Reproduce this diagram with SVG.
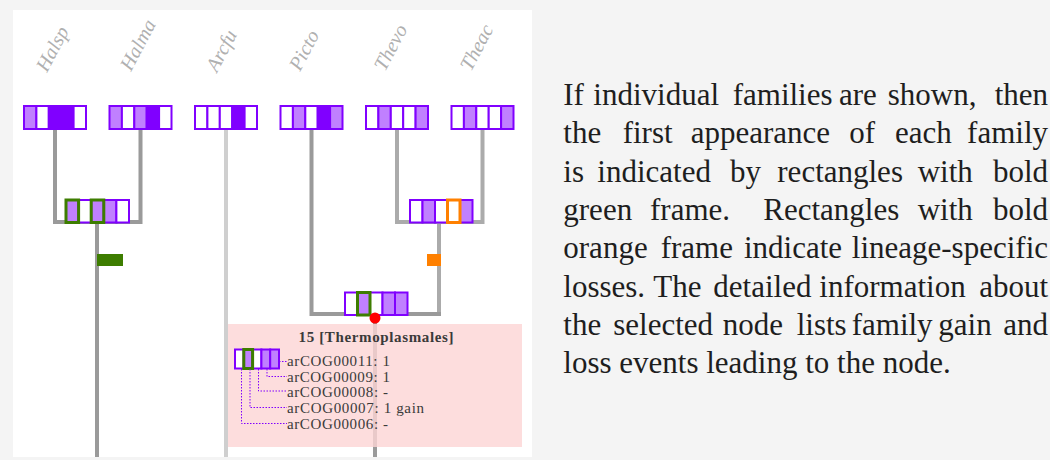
<svg xmlns="http://www.w3.org/2000/svg" width="1050" height="460" viewBox="0 0 1050 460">
<style>
.lbl{font-family:"Liberation Serif","DejaVu Serif","Times New Roman",serif;font-style:italic;font-size:20px;fill:#b0b0b0}
.c{stroke:#8000ff;stroke-width:2}
.W{fill:#ffffff}.L{fill:#c080ff}.D{fill:#8000ff}
.g{fill:none;stroke:#3d7d00;stroke-width:3}
.o{fill:none;stroke:#ff8000;stroke-width:3}
.br{fill:none;stroke-width:4;stroke-linejoin:miter}
.dk{stroke:#9a9a9a}.md{stroke:#ababab}.lt{stroke:#cfcfcf}
.body{font-family:"Liberation Serif","DejaVu Serif","Times New Roman",serif;font-size:31px;fill:#1e1e1e}
.info{font-family:"Liberation Serif","DejaVu Serif","Times New Roman",serif;font-size:15px;fill:#3a3a3a}
.dot{fill:none;stroke:#8000ff;stroke-width:1;stroke-dasharray:1.5 1.5}
</style>
<rect x="0" y="0" width="1050" height="460" fill="#f4f4f4"/>
<rect x="13" y="10" width="519" height="447" fill="#ffffff"/>

<g id="connectors">
  <path class="br dk" d="M55,129 V222 H140.5 V129"/>
  <path class="br dk" d="M97,222 V457"/>
  <path class="br lt" d="M226,129 V457"/>
  <path class="br md" d="M397,129 V222 H482.5 V129"/>
  <path class="br md" d="M439,222 V314"/>
  <path class="br dk" d="M311.5,129 V314 H441"/>
  <path class="br dk" d="M375,314 V457"/>
  <rect x="97" y="254" width="26" height="12" fill="#3d7d00"/>
  <rect x="427" y="254" width="14" height="12" fill="#ff8000"/>
</g>

<g id="leaf-Halsp">
  <text class="lbl" transform="translate(47,73) rotate(-62)">Halsp</text>
  <rect class="c L" x="24" y="106" width="12.4" height="23"/>
  <rect class="c W" x="36.4" y="106" width="12.4" height="23"/>
  <rect class="c D" x="48.8" y="106" width="12.4" height="23"/>
  <rect class="c D" x="61.2" y="106" width="12.4" height="23"/>
  <rect class="c W" x="73.6" y="106" width="12.4" height="23"/>
</g>
<g id="leaf-Halma">
  <text class="lbl" transform="translate(131,72) rotate(-62)">Halma</text>
  <rect class="c L" x="109.5" y="106" width="12.4" height="23"/>
  <rect class="c W" x="121.9" y="106" width="12.4" height="23"/>
  <rect class="c L" x="134.3" y="106" width="12.4" height="23"/>
  <rect class="c D" x="146.7" y="106" width="12.4" height="23"/>
  <rect class="c W" x="159.1" y="106" width="12.4" height="23"/>
</g>
<g id="leaf-Arcfu">
  <text class="lbl" transform="translate(217,73) rotate(-62)">Arcfu</text>
  <rect class="c W" x="195" y="106" width="12.4" height="23"/>
  <rect class="c W" x="207.4" y="106" width="12.4" height="23"/>
  <rect class="c W" x="219.8" y="106" width="12.4" height="23"/>
  <rect class="c D" x="232.2" y="106" width="12.4" height="23"/>
  <rect class="c W" x="244.6" y="106" width="12.4" height="23"/>
</g>
<g id="leaf-Picto">
  <text class="lbl" transform="translate(300,72) rotate(-62)">Picto</text>
  <rect class="c W" x="280.5" y="106" width="12.4" height="23"/>
  <rect class="c L" x="292.9" y="106" width="12.4" height="23"/>
  <rect class="c W" x="305.3" y="106" width="12.4" height="23"/>
  <rect class="c D" x="317.7" y="106" width="12.4" height="23"/>
  <rect class="c L" x="330.1" y="106" width="12.4" height="23"/>
</g>
<g id="leaf-Thevo">
  <text class="lbl" transform="translate(385,72) rotate(-62)">Thevo</text>
  <rect class="c W" x="366" y="106" width="12.4" height="23"/>
  <rect class="c L" x="378.4" y="106" width="12.4" height="23"/>
  <rect class="c W" x="390.8" y="106" width="12.4" height="23"/>
  <rect class="c W" x="403.2" y="106" width="12.4" height="23"/>
  <rect class="c L" x="415.6" y="106" width="12.4" height="23"/>
</g>
<g id="leaf-Theac">
  <text class="lbl" transform="translate(471,72) rotate(-62)">Theac</text>
  <rect class="c W" x="451.5" y="106" width="12.4" height="23"/>
  <rect class="c L" x="463.9" y="106" width="12.4" height="23"/>
  <rect class="c W" x="476.3" y="106" width="12.4" height="23"/>
  <rect class="c W" x="488.7" y="106" width="12.4" height="23"/>
  <rect class="c L" x="501.1" y="106" width="12.4" height="23"/>
</g>

<g id="node-halo">
  <rect class="c L" x="66" y="200" width="12.6" height="22.5"/>
  <rect class="c W" x="78.6" y="200" width="12.6" height="22.5"/>
  <rect class="c L" x="91.2" y="200" width="12.6" height="22.5"/>
  <rect class="c L" x="103.8" y="200" width="12.6" height="22.5"/>
  <rect class="c W" x="116.4" y="200" width="12.6" height="22.5"/>
  <rect class="g" x="66" y="200" width="12.6" height="22.5"/>
  <rect class="g" x="91.2" y="200" width="12.6" height="22.5"/>
</g>
<g id="node-thermo">
  <rect class="c W" x="410" y="200" width="12.5" height="22.5"/>
  <rect class="c L" x="422.5" y="200" width="12.5" height="22.5"/>
  <rect class="c W" x="435" y="200" width="12.5" height="22.5"/>
  <rect class="c W" x="447.5" y="200" width="12.5" height="22.5"/>
  <rect class="c L" x="460" y="200" width="12.5" height="22.5"/>
  <rect class="o" x="447.5" y="200" width="12.5" height="22.5"/>
</g>

<g id="info-panel">
  <rect x="228" y="324" width="294" height="123" fill="#fcd4d4" fill-opacity="0.8"/>
  <text class="info" x="376" y="342" text-anchor="middle" font-weight="bold" font-size="16px" textLength="155">15 [Thermoplasmales]</text>
  <rect class="c W" x="235" y="349.5" width="8.8" height="19"/>
  <rect class="c L" x="243.8" y="349.5" width="8.8" height="19"/>
  <rect class="c W" x="252.6" y="349.5" width="8.8" height="19"/>
  <rect class="c L" x="261.4" y="349.5" width="8.8" height="19"/>
  <rect class="c L" x="270.2" y="349.5" width="8.8" height="19"/>
  <rect class="g" x="243.8" y="349.5" width="8.8" height="19"/>
  <path class="dot" d="M279,361.5 H287"/>
  <path class="dot" d="M267,369 V376.5 H287"/>
  <path class="dot" d="M258.5,369 V391 H287"/>
  <path class="dot" d="M250,369 V407.5 H287"/>
  <path class="dot" d="M241.5,369 V423.5 H287"/>
  <text class="info" x="287" y="366" textLength="103">arCOG00011: 1</text>
  <text class="info" x="287" y="381.5" textLength="103">arCOG00009: 1</text>
  <text class="info" x="287" y="396.5" textLength="101">arCOG00008: -</text>
  <text class="info" x="287" y="412.5" textLength="137">arCOG00007: 1 gain</text>
  <text class="info" x="287" y="429" textLength="101">arCOG00006: -</text>
</g>

<g id="node-selected">
  <rect class="c W" x="345" y="292.5" width="12.5" height="22.5"/>
  <rect class="c L" x="357.5" y="292.5" width="12.5" height="22.5"/>
  <rect class="c W" x="370" y="292.5" width="12.5" height="22.5"/>
  <rect class="c L" x="382.5" y="292.5" width="12.5" height="22.5"/>
  <rect class="c L" x="395" y="292.5" width="12.5" height="22.5"/>
  <rect class="g" x="357.5" y="292.5" width="12.5" height="22.5"/>
  <circle cx="375" cy="318" r="5.5" fill="#ff0000"/>
</g>

<g id="description" class="body">
  <text y="105"><tspan x="563.3">If</tspan><tspan x="593.3">individual</tspan><tspan x="732.7">families</tspan><tspan x="839">are</tspan><tspan x="887.7">shown,</tspan><tspan x="1048" text-anchor="end">then</tspan></text>
  <text y="143.3"><tspan x="563.3">the</tspan><tspan x="622.7">first</tspan><tspan x="690.7">appearance</tspan><tspan x="849.3">of</tspan><tspan x="895">each</tspan><tspan x="1048" text-anchor="end">family</tspan></text>
  <text y="181.7"><tspan x="563.3">is</tspan><tspan x="597.3">indicated</tspan><tspan x="730">by</tspan><tspan x="777.3">rectangles</tspan><tspan x="917.7">with</tspan><tspan x="1048" text-anchor="end">bold</tspan></text>
  <text y="220"><tspan x="563.3">green</tspan><tspan x="650">frame.</tspan><tspan x="763.3">Rectangles</tspan><tspan x="917.7">with</tspan><tspan x="1048" text-anchor="end">bold</tspan></text>
  <text y="258.3"><tspan x="563.3">orange</tspan><tspan x="660.7">frame</tspan><tspan x="744">indicate</tspan><tspan x="1048" text-anchor="end">lineage-specific</tspan></text>
  <text y="296.7"><tspan x="563.3">losses.</tspan><tspan x="653.3">The</tspan><tspan x="713.3">detailed</tspan><tspan x="819.3">information</tspan><tspan x="1048" text-anchor="end">about</tspan></text>
  <text y="335"><tspan x="563.3">the</tspan><tspan x="613.3">selected</tspan><tspan x="722.7">node</tspan><tspan x="796.7">lists</tspan><tspan x="851.7">family</tspan><tspan x="938.3">gain</tspan><tspan x="1048" text-anchor="end">and</tspan></text>
  <text x="563.3" y="373.3">loss events leading to the node.</text>
</g>
</svg>
